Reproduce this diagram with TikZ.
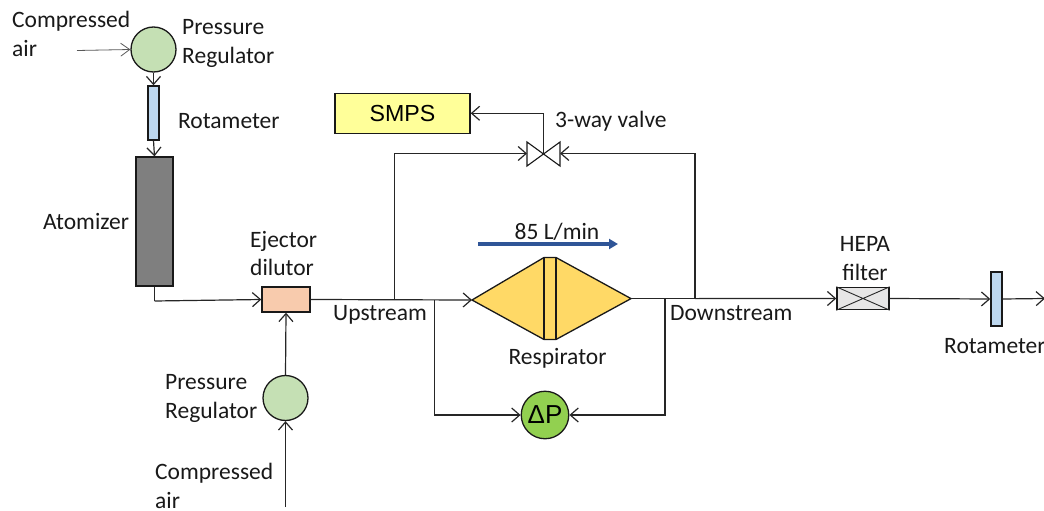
\documentclass[tikz,border=0pt]{standalone}
\usepackage{fontspec}
\setmainfont{Carlito}
\newfontfamily\arialfont{Liberation Sans}
\usetikzlibrary{arrows.meta}
\tikzset{
  lab/.style={inner sep=0pt,font=\fontsize{23.5}{28.5}\selectfont,text=black!90,align=left},
  box/.style={draw=black!90,line width=1.4pt,inner sep=0pt,rectangle},
  disc/.style={draw=black!90,line width=1.3pt,inner sep=0pt,circle},
  pipe/.style={draw=black!85,line width=1.2pt},
  flow/.style={pipe,-{Straight Barb[length=8pt,width=14pt,line width=1.2pt]}},
  thinflow/.style={draw=black!65,line width=.8pt,-{Straight Barb[length=9pt,width=13pt,line width=.8pt]}},
  regulator/.style={disc,fill=regGreen,minimum size=45pt},
  rota/.style={box,fill=rotaBlue},
}
\definecolor{regGreen}{HTML}{C5E0B4}
\definecolor{rotaBlue}{HTML}{BDD7EE}
\definecolor{atomGray}{HTML}{7F7F7F}
\definecolor{ejectOrange}{HTML}{F8CBAD}
\definecolor{smpsYellow}{HTML}{FFFF99}
\definecolor{respGold}{HTML}{FFD966}
\definecolor{dpGreen}{HTML}{92D050}
\definecolor{flowBlue}{HTML}{2F5597}
\definecolor{hepaGray}{HTML}{E7E6E6}
\begin{document}
\begin{tikzpicture}[x=1pt,y=-1pt]
\useasboundingbox (0,0) rectangle (1044,511);
\clip (0,0) rectangle (1044,511);
% components
\node[regulator] (regT) at (153.5,49.5) {};
\node[rota,minimum width=11pt,minimum height=54pt] (rotaT) at (153.5,113) {};
\node[box,fill=atomGray,minimum width=37pt,minimum height=129pt] (atom) at (154.5,221.5) {};
\node[box,fill=ejectOrange,minimum width=48pt,minimum height=25pt] (eject) at (286,299.5) {};
\node[regulator] (regB) at (285.5,398) {};
\node[box,fill=smpsYellow,minimum width=135pt,minimum height=40pt,font=\arialfont\fontsize{23.2}{26}\selectfont] (smps) at (402.5,113.3) {SMPS};
\node[disc,fill=dpGreen,minimum size=47.5pt,font=\arialfont\fontsize{26}{28}\selectfont] (dp) at (545,415) {ΔP};
\node[box,fill=hepaGray,minimum width=52pt,minimum height=22pt] (hepa) at (863,298.5) {};
\node[rota,minimum width=11pt,minimum height=54pt] (rotaR) at (996.5,299) {};
% HEPA cross
\draw[draw=black!85,line width=.9pt] (hepa.north west) -- (hepa.south east) (hepa.south west) -- (hepa.north east);
% respirator
\coordinate (respL) at (472,300);
\coordinate (respR) at (631,298.6);
\coordinate (respTop) at (544,257.5);
\coordinate (respBot) at (544,339.5);
\coordinate (respTop2) at (556,257.5);
\coordinate (respBot2) at (556,339.5);
\draw[fill=respGold,draw=black!90,line width=1.3pt] (respL) -- (respTop) -- (respTop2) -- (respR) -- (respBot2) -- (respBot) -- cycle;
\draw[draw=black!90,line width=1.3pt] (respTop) -- (respBot) (respTop2) -- (respBot2);
% valve
\coordinate (valve) at (543.5,154);
\coordinate (valveL) at (527,153.5);
\coordinate (valveR) at (560,153.5);
\draw[fill=white,draw=black!90,line width=1.1pt] (valve) -- (527,142) -- (527,166) -- cycle;
\draw[fill=white,draw=black!90,line width=1.1pt] (valve) -- (560,142) -- (560,166) -- cycle;
% junctions
\coordinate (airT) at (77,50.5);
\coordinate (airB) at (285.5,507);
\coordinate (outR) at (1045,298.5);
\coordinate (upV) at (394.5,300);
\coordinate (upP) at (434.5,300);
\coordinate (downP) at (665,298.6);
\coordinate (downV) at (695,298.6);
\coordinate (atomTurn) at (154.5,301);
% connectors
\draw[thinflow] (airT) -- (regT.west);
\draw[flow] (regT.south) -- (rotaT.north);
\draw[flow] (rotaT.south) -- (atom.north);
\draw[pipe] (atom.south) -- (atomTurn);
\draw[flow] (atomTurn) -- (eject.west);
\draw[flow] (regB.north) -- (eject.south);
\draw[flow] (airB) -- (regB.south);
\draw[flow] (eject.east) -- (respL);
\draw[pipe] (respR) -- (downV);
\draw[flow] (downV) -- (hepa.west);
\draw[flow] (hepa.east) -- (rotaR.west);
\draw[flow] (rotaR.east) -- (outR);
\draw[flow] (upV) |- (valveL);
\draw[flow] (downV) |- (valveR);
\draw[flow] (valve) |- (smps.east);
\draw[flow] (upP) |- (dp.west);
\draw[flow] (downP) |- (dp.east);
% flow indicator
\coordinate (flowA) at (478,244);
\coordinate (flowB) at (618,244);
\draw[draw=flowBlue,line width=3.2pt,-{Triangle[length=9pt,width=10pt]}] (flowA) -- (flowB);
% labels
\node[lab,anchor=west] (tAirT) at (12,34) {Compressed\\air};
\node[lab,anchor=west] (tRegT) at (182,43.5) {Pressure\\Regulator};
\node[lab,anchor=west] (tRotaT) at (178,121.5) {Rotameter};
\node[lab,anchor=west] (tAtom) at (43,221.5) {Atomizer};
\node[lab,anchor=west] (tEject) at (250,253.5) {Ejector\\dilutor};
\node[lab,anchor=west] (tRegB) at (165,398.5) {Pressure\\Regulator};
\node[lab,anchor=west] (tAirB) at (155,486) {Compressed\\air};
\node[lab,anchor=west] (tUp) at (333,314.5) {Upstream};
\node[lab,anchor=west] (tDown) at (670,313.5) {Downstream};
\node[lab,anchor=west] (tValve) at (555,121.5) {3-way valve};
\node[lab] (tFlow) at (557,232) {85 L/min};
\node[lab] (tResp) at (557.5,358.5) {Respirator};
\node[lab,align=center] (tHepa) at (865,258.5) {HEPA\\filter};
\node[lab,anchor=west] (tRotaR) at (944,346.5) {Rotameter};
\end{tikzpicture}
\end{document}
